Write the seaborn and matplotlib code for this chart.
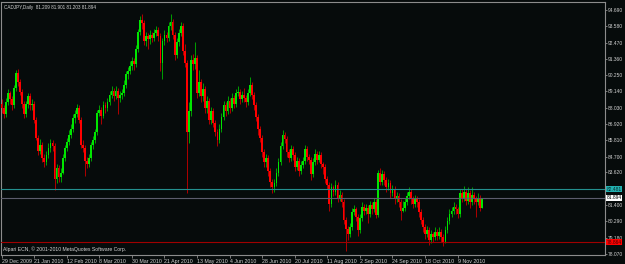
import numpy as np
import pandas as pd
import matplotlib
matplotlib.use("Agg")
import matplotlib.pyplot as plt
import matplotlib.transforms as mtrans
import seaborn as sns

# ---------------- data ----------------
first_open = 88.3
closes = [
    88.0, 87.6, 88.4, 89.0, 88.6, 88.2, 89.4, 90.4, 89.8, 89.1,
    88.3, 87.6, 88.3, 88.8, 88.2, 88.3, 87.2, 86.0, 85.1, 85.5,
    84.6, 84.3, 84.8, 85.3, 85.6, 85.4, 83.2, 83.9, 83.3, 83.6,
    84.6, 85.3, 85.7, 86.2, 86.6, 87.3, 87.6, 88.0, 87.2,
    85.5, 85.3, 84.4, 84.2, 84.6, 85.5, 85.8, 86.4, 87.7, 87.9,
    87.5, 88.2, 88.0, 88.4, 88.9, 89.2, 88.8, 89.2, 88.7, 88.9,
    89.0, 89.6, 90.3, 90.5, 90.9, 91.2, 91.0, 92.0, 93.2, 94.0,
    93.8, 92.6, 92.9, 92.7, 93.0, 92.8, 93.1, 93.3, 92.9, 91.1,
    92.6, 93.0, 92.8, 93.6, 93.9, 93.0, 91.6, 92.5, 93.1, 93.6,
    91.9, 91.1, 86.4, 87.8, 91.3, 91.0, 91.4, 89.0, 89.8, 88.8,
    89.3, 88.0, 88.5, 87.2, 87.8, 87.0, 86.4, 85.8, 86.6, 87.4,
    88.2, 87.8, 88.5, 88.0, 88.7, 88.3, 89.0, 89.1, 88.6, 88.9,
    88.7, 88.4, 89.0, 89.6, 88.9, 88.2, 87.4, 86.6, 86.0,
    85.0, 84.3, 84.6, 83.7, 83.0, 82.6, 82.9, 83.6, 84.3, 85.4,
    86.2, 85.9, 85.0, 84.6, 85.2, 84.8, 84.0, 84.4, 83.7, 84.1,
    84.4, 85.2, 84.7, 84.5, 83.5, 84.3, 84.9, 84.5, 84.8, 84.2,
    84.0, 83.2, 82.8, 81.5, 82.6, 82.3, 82.8, 81.9, 82.1,
    81.6, 80.4, 79.8, 79.4, 79.9, 80.9, 81.1, 80.6, 79.7, 80.5,
    81.3, 81.0, 81.2, 80.8, 81.4, 81.1, 81.6, 80.7, 83.6, 83.0,
    83.5, 83.1, 82.6, 82.9, 82.2, 82.5, 81.8, 82.0, 81.6, 81.0,
    81.2, 81.6, 82.0, 82.3, 81.8, 81.5, 81.8, 81.6, 80.9,
    80.4, 79.9, 79.4, 79.7, 79.0, 79.4, 79.2, 79.6, 79.3, 79.6,
    79.2, 78.9, 79.7, 80.3, 80.8, 81.0, 81.3, 81.1, 80.8, 82.2,
    81.9, 82.3, 81.7, 82.2, 81.6, 82.1, 81.8, 81.6, 81.9, 81.209,
    81.894,
]
highs = [
    88.6, 88.2, 88.7, 89.3, 89.2, 88.8, 89.6, 90.6, 90.7, 90.0,
    89.3, 88.5, 88.5, 89.0, 89.0, 88.6, 88.5, 87.4, 86.2, 85.9,
    85.7, 84.9, 85.1, 85.6, 85.9, 85.8, 85.6, 84.2, 84.1, 83.9,
    84.9, 85.5, 86.0, 86.5, 86.9, 87.6, 87.9, 88.3, 88.2,
    87.4, 85.8, 85.5, 84.7, 84.9, 85.7, 86.1, 86.6, 87.9, 88.2,
    88.1, 88.5, 88.4, 88.7, 89.2, 89.5, 89.4, 89.5, 89.4, 89.2,
    89.3, 89.9, 90.5, 90.8, 91.2, 91.5, 91.4, 92.3, 93.4, 94.3,
    94.4, 94.0, 93.2, 93.1, 93.3, 93.2, 93.4, 93.6, 93.5, 93.1,
    92.8, 93.3, 93.2, 93.9, 94.4, 94.1, 93.2, 92.8, 93.4, 93.9,
    93.8, 92.4, 91.3, 88.4, 91.6, 91.7, 92.5, 91.6, 90.6, 90.0,
    89.7, 89.5, 88.8, 88.7, 88.1, 88.0, 87.2, 86.6, 86.9, 87.7,
    88.5, 88.4, 88.8, 88.7, 89.0, 88.9, 89.3, 89.5, 89.3, 89.2,
    89.4, 88.9, 89.3, 90.1, 89.8, 89.1, 88.4, 87.6, 86.8,
    86.2, 85.2, 84.9, 84.8, 83.9, 83.2, 83.2, 83.9, 84.6, 85.7,
    86.5, 86.4, 86.1, 85.2, 85.5, 85.4, 85.0, 84.7, 84.6, 84.4,
    84.7, 85.5, 85.4, 84.9, 84.7, 84.6, 85.2, 85.1, 85.1, 85.0,
    84.3, 84.2, 83.4, 83.0, 82.9, 82.8, 83.1, 83.0, 82.4,
    82.3, 81.8, 80.6, 80.0, 80.2, 81.2, 81.4, 81.3, 80.8, 80.8,
    81.6, 81.5, 81.5, 81.4, 81.7, 81.6, 81.9, 81.8, 83.8, 83.9,
    83.8, 83.7, 83.3, 83.2, 83.1, 82.8, 82.7, 82.3, 82.2, 81.8,
    81.7, 81.9, 82.3, 82.6, 82.5, 82.0, 82.1, 82.0, 81.8,
    81.1, 80.6, 80.1, 80.0, 79.9, 79.7, 79.6, 79.9, 79.8, 79.9,
    79.8, 79.4, 80.0, 80.6, 81.1, 81.3, 81.6, 81.5, 81.3, 82.5,
    82.5, 82.7, 82.5, 82.6, 82.4, 82.6, 82.3, 82.0, 82.2, 82.1,
    81.901,
]
lows = [
    87.7, 87.3, 87.4, 88.2, 88.3, 87.9, 88.0, 89.2, 89.5, 88.9,
    88.0, 87.3, 87.4, 88.0, 87.9, 87.9, 87.0, 85.8, 84.8, 84.9,
    84.3, 84.0, 84.1, 84.6, 85.0, 85.1, 82.4, 82.9, 83.0, 83.0,
    83.5, 84.4, 85.1, 85.5, 86.0, 86.4, 87.0, 87.4, 87.0,
    85.3, 85.0, 83.4, 83.9, 84.0, 84.4, 85.2, 85.6, 86.2, 87.5,
    86.9, 87.3, 87.7, 87.8, 88.2, 88.7, 88.5, 88.6, 87.6, 88.4,
    88.6, 88.8, 89.4, 90.0, 90.3, 90.6, 90.6, 90.8, 91.8, 93.0,
    93.4, 92.3, 92.2, 92.0, 92.4, 92.5, 92.6, 92.9, 92.6, 90.5,
    90.0, 92.3, 92.5, 92.6, 93.3, 92.7, 91.3, 91.4, 92.2, 92.9,
    91.6, 90.8, 82.2, 85.6, 87.5, 90.6, 90.7, 88.7, 88.8, 88.4,
    88.5, 87.7, 87.7, 86.9, 86.9, 86.7, 86.1, 85.4, 85.6, 86.4,
    87.2, 87.5, 87.6, 87.7, 87.8, 88.0, 88.1, 88.8, 88.3, 88.4,
    88.4, 88.1, 88.2, 88.8, 88.6, 87.9, 87.1, 86.2, 85.7,
    84.7, 84.0, 84.0, 83.4, 82.6, 82.2, 82.3, 82.7, 83.4, 84.1,
    85.2, 85.6, 84.7, 84.3, 84.4, 84.5, 83.7, 83.8, 83.4, 83.5,
    83.9, 84.2, 84.4, 84.2, 83.1, 83.3, 84.1, 84.2, 84.3, 83.9,
    83.5, 82.9, 82.5, 81.0, 81.3, 82.0, 82.1, 81.6, 81.7,
    81.3, 80.1, 78.3, 79.0, 79.2, 79.7, 80.7, 80.3, 79.3, 79.5,
    80.3, 80.7, 80.8, 80.2, 80.6, 80.8, 80.9, 80.5, 80.6, 82.8,
    82.8, 82.8, 82.3, 82.4, 81.9, 82.0, 81.5, 81.6, 81.3, 80.4,
    80.9, 81.0, 81.4, 81.8, 81.5, 81.2, 81.3, 81.3, 80.6,
    80.1, 79.6, 79.1, 79.2, 78.7, 78.8, 78.9, 79.0, 79.0, 79.1,
    78.9, 78.6, 78.8, 79.5, 80.1, 80.6, 80.8, 80.8, 80.5, 80.6,
    81.6, 81.7, 81.4, 81.5, 81.2, 81.4, 81.5, 80.6, 81.4, 81.0,
    81.203,
]
start_date = "2009-12-29"
holidays = ["2010-01-01"]

x_tick_dates = ["2009-12-29", "2010-01-21", "2010-02-12", "2010-03-08", "2010-03-30",
                "2010-04-21", "2010-05-13", "2010-06-04", "2010-06-28", "2010-07-20",
                "2010-08-11", "2010-09-02", "2010-09-24", "2010-10-18", "2010-11-09"]
x_tick_labels = ["29 Dec 2009", "21 Jan 2010", "12 Feb 2010", "8 Mar 2010", "30 Mar 2010",
                 "21 Apr 2010", "13 May 2010", "4 Jun 2010", "28 Jun 2010", "20 Jul 2010",
                 "11 Aug 2010", "2 Sep 2010", "24 Sep 2010", "18 Oct 2010", "9 Nov 2010"]
y_tick_values = [94.69, 93.58, 92.47, 91.36, 90.25, 89.14, 88.03, 86.92, 85.81,
                 84.70, 83.62, 81.40, 80.29, 79.18, 78.07]
y_tick_labels = ["94.690", "93.580", "92.470", "91.360", "90.250", "89.140", "88.030",
                 "86.920", "85.810", "84.700", "83.620", "81.400", "80.290", "79.180", "78.070"]
resistance_level = 82.481
bid_level = 81.894
support_level = 78.864
title_text = "CADJPY,Daily  81.209 81.901 81.203 81.894"
copyright_text = "Alpari ECN, \u00a9 2001-2010 MetaQuotes Software Corp."
annotation_text = "Resistance"

# ---------------- frame ----------------
dates = pd.bdate_range(start_date, periods=len(closes), freq="C", holidays=holidays)
df = pd.DataFrame({"date": dates, "close": closes, "high": highs, "low": lows})
df["open"] = [first_open] + closes[:-1]
df["i"] = np.arange(len(df))
df["up"] = df["close"] >= df["open"]
df["bottom"] = df[["open", "close"]].min(axis=1)
df["body"] = (df["close"] - df["open"]).abs().clip(lower=0.07)

BG = "#060b0b"
UP = "#00e600"
DOWN = "#ff0000"
FRAME = "#8c8c8c"
TXT = "#d2d2d2"

sns.set_theme(style="dark", rc={
    "axes.facecolor": BG, "figure.facecolor": BG, "savefig.facecolor": BG,
    "axes.edgecolor": FRAME, "axes.grid": False,
})
plt.rcParams["font.family"] = ["Liberation Sans", "DejaVu Sans"]
small = 3.5

W, H = 625, 264
fig = plt.figure(figsize=(W / 100, H / 100), dpi=100)
ax = fig.add_axes([1 / W, 9 / H, 604 / W, 253 / H])
ax.set_facecolor(BG)

# wicks
wick_colors = np.where(df["up"], "#00a000", "#b00000")
ax.vlines(df["i"], df["low"], df["high"], colors=wick_colors, linewidth=0.7, zorder=2)

# bodies via seaborn
for is_up, col in [(True, UP), (False, DOWN)]:
    sub = df[df["up"] == is_up].reset_index(drop=True)
    sns.barplot(data=sub, x="i", y="body", native_scale=True, color=col, saturation=1,
                width=0.85, errorbar=None, linewidth=0, bottom=sub["bottom"].to_numpy(),
                ax=ax, zorder=3)

# horizontal levels
ax.axhline(resistance_level, color="#23908f", lw=0.8, zorder=4)
ax.axhline(bid_level, color="#5c5c6c", lw=0.8, zorder=4)
ax.axhline(support_level, color="#a00000", lw=0.8, zorder=4)

ax.set_xlim(-0.3, 296.4)
ax.set_ylim(78.0, 95.23)
ax.set_xlabel("")
ax.set_ylabel("")

# axes styling
for s in ["left", "right", "top", "bottom"]:
    ax.spines[s].set_color(FRAME)
    ax.spines[s].set_linewidth(0.8)
ax.yaxis.tick_right()
ax.set_yticks(y_tick_values)
ax.set_yticklabels(y_tick_labels)
tick_pos = [int(np.where(df["date"] == pd.Timestamp(d))[0][0]) for d in x_tick_dates]
ax.set_xticks(tick_pos)
ax.set_xticklabels(x_tick_labels, ha="left")
ax.tick_params(axis="y", which="both", direction="out", length=1.6, width=0.6, color=FRAME,
               labelsize=small, labelcolor=TXT, pad=0.6, right=True, left=False)
ax.tick_params(axis="x", which="both", direction="out", length=2, width=0.6, color=FRAME,
               labelsize=3.8, labelcolor=TXT, pad=0.8, bottom=True)

# price labels on the right axis
blend = mtrans.blended_transform_factory(ax.transAxes, ax.transData)
for lvl, fc, tc in [(resistance_level, "#22b0b0", "#0a3030"),
                    (bid_level, "#ffffff", "#000000"),
                    (support_level, "#ff0000", "#400000")]:
    ax.text(1.003, lvl, f"{lvl:.3f}", transform=blend, ha="left", va="center",
            fontsize=3.5, color=tc, zorder=6, clip_on=False,
            bbox=dict(boxstyle="square,pad=0.1", fc=fc, ec="none"))

# texts
fig.text(4 / W, 1 - 7 / H, title_text, ha="left", va="center", fontsize=3.3, color=TXT)
fig.text(3 / W, 1 - 249 / H, copyright_text, ha="left", va="center", fontsize=3.7, color=TXT)
ax.text(513, 83.25, annotation_text, ha="center", va="center", fontsize=6.5,
        color="#33cc33", family=["Liberation Sans", "DejaVu Sans"], zorder=6)

fig.savefig("out.png", dpi=100, facecolor=BG)
